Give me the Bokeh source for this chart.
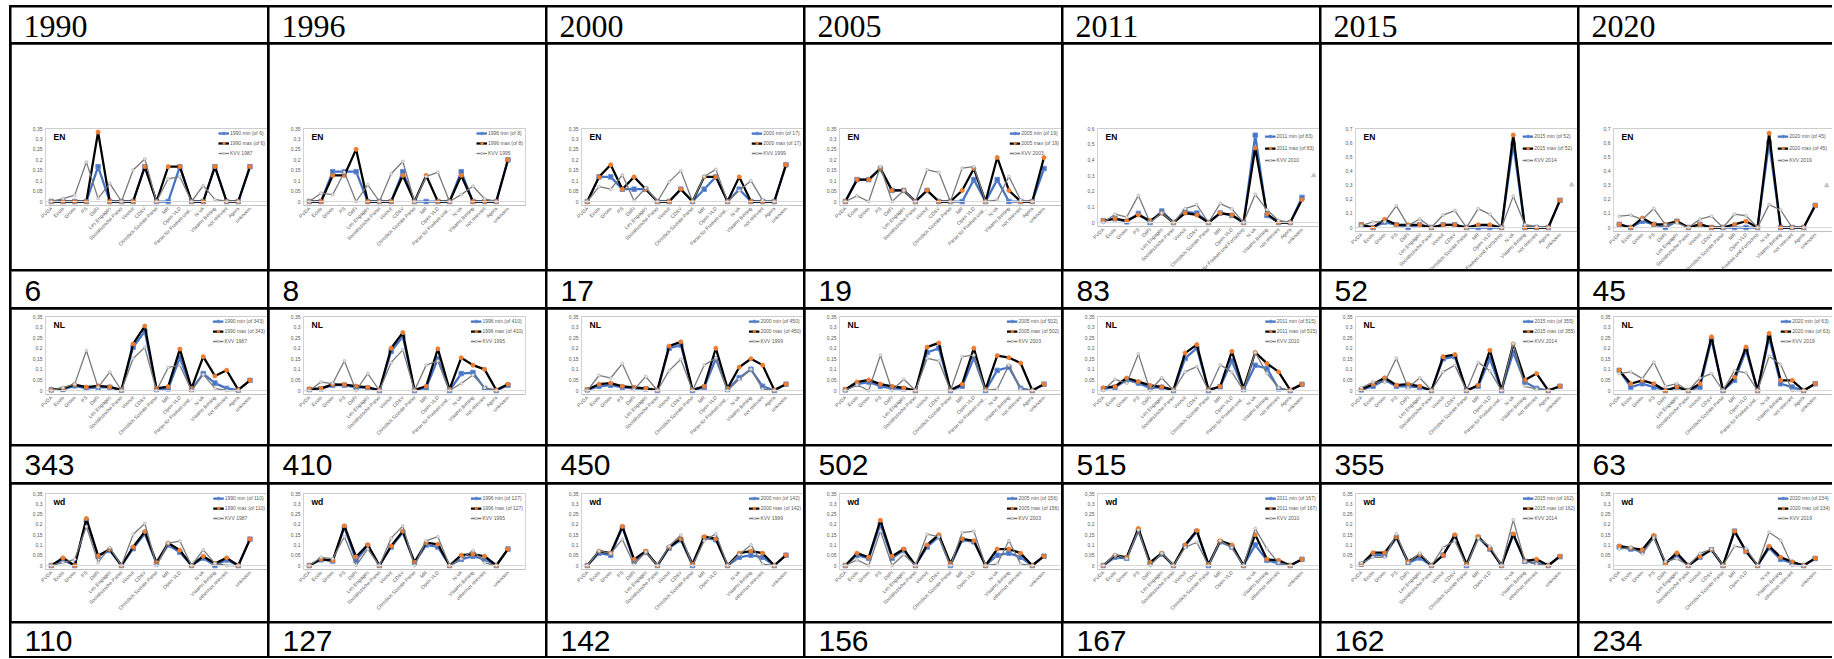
import math
from bokeh.plotting import figure
from bokeh.models import (Range1d, FixedTicker, Legend, LegendItem, Label, Span,
                          Spacer, CustomJSTickFormatter)
from bokeh.layouts import row, column
from bokeh.embed import file_html
from bokeh.resources import INLINE
from bokeh.core.properties import value

NaN = float("nan")

# ---------------- data ----------------
years = ["1990", "1996", "2000", "2005", "2011", "2015", "2020"]
kvv_years = ["1987", "1995", "1999", "2003", "2010", "2014", "2019"]
n_en = [6, 8, 17, 19, 83, 52, 45]
n_nl = [343, 410, 450, 502, 515, 355, 63]
n_wd = [110, 127, 142, 156, 167, 162, 234]

parties = ["PVDA", "Ecolo", "Groen", "PS", "DéFI", "Les Engagés", "Socialistische Partei",
           "Vooruit", "CD&V", "Christlich Soziale Partei", "MR", "Open VLD",
           "Partei für Freiheit und Fortschritt", "N-VA", "Vlaams Belang", "not relevant",
           "Agora", "unknown"]
pff_short = "Partei für Freiheit und..."
wd_labels = ["PVDA", "Ecolo", "Groen", "PS", "DéFI", "Les Engagés", "Socialistische Partei",
             "Vooruit", "CD&V", "Christlich Soziale Partei", "MR", "Open VLD", "",
             "N-VA", "Vlaams Belang", "other/not relevant", "", "unknown"]

# KVV (chamber election) shares, shared by the three rows of a column
kvv_1987 = [0, 0.014, 0.03, 0.189, 0.015, 0.087, 0, 0.151, 0.204, 0, 0.109, 0.119, 0, 0.076, 0.01, 0, 0, NaN]
kvv_1995 = [0, 0.04, 0.033, 0.14, 0, 0.08, 0, 0.133, 0.192, 0, 0.12, 0.14, 0, 0.033, 0.073, 0.013, 0, NaN]
kvv_1999 = [0, 0.071, 0.059, 0.127, 0.004, 0.066, 0, 0.094, 0.148, 0, 0.12, 0.154, 0, 0.053, 0.1, 0.007, 0, NaN]
kvv_2003 = [0, 0.027, 0, 0.167, 0, 0.053, 0, 0.152, 0.14, 0, 0.16, 0.167, 0, 0.007, 0.12, 0.007, 0, NaN]
kvv_2010 = [0, 0.053, 0.034, 0.173, 0, 0.06, 0, 0.088, 0.113, 0, 0.121, 0.087, 0, 0.18, 0.081, 0.013, 0, NaN]
kvv_2014 = [0.013, 0.04, 0.04, 0.153, 0.013, 0.06, 0, 0.088, 0.12, 0, 0.133, 0.093, 0, 0.222, 0.02, 0.007, 0, NaN]
kvv_2019 = [0.08, 0.088, 0.056, 0.134, 0.02, 0.033, 0, 0.059, 0.08, 0, 0.094, 0.083, 0, 0.162, 0.123, 0, 0, NaN]

# stray marker at the 19th slot of the later EN charts
en_extra = [NaN, NaN, NaN, NaN, 0.3, 0.302, 0.297]

# EN
en_1990_min = [0, 0, 0, 0, 0.167, 0, 0, 0, 0.167, 0, 0, 0.167, 0, 0, 0.167, 0, 0, 0.167]
en_1990_max = [0, 0, 0, 0, 0.333, 0, 0, 0, 0.167, 0, 0.167, 0.167, 0, 0, 0.167, 0, 0, 0.167]
en_1996_min = [0, 0, 0.143, 0.143, 0.143, 0, 0, 0, 0.143, 0, 0, 0, 0, 0.143, 0, 0, 0, 0.2]
en_1996_max = [0, 0, 0.125, 0.125, 0.25, 0, 0, 0, 0.125, 0, 0.125, 0, 0, 0.125, 0, 0, 0, 0.2]
en_2000_min = [0, 0.118, 0.118, 0.059, 0.059, 0.059, 0, 0, 0.059, 0, 0.059, 0.118, 0, 0.059, 0, 0, 0, 0.176]
en_2000_max = [0, 0.118, 0.176, 0.059, 0.118, 0.059, 0, 0, 0.059, 0, 0.118, 0.118, 0, 0.118, 0, 0, 0, 0.176]
en_2005_min = [0, 0.105, 0.105, 0.158, 0.053, 0.053, 0, 0.053, 0, 0, 0, 0.105, 0, 0.105, 0, 0, 0, 0.158]
en_2005_max = [0, 0.105, 0.105, 0.158, 0.053, 0.053, 0, 0.053, 0, 0, 0.053, 0.158, 0, 0.211, 0.053, 0, 0, 0.211]
en_2011_min = [0.012, 0.024, 0.004, 0.058, 0, 0.073, 0, 0.068, 0.06, 0, 0.06, 0.045, 0, 0.557, 0.045, 0, 0, 0.16]
en_2011_max = [0.012, 0.024, 0.012, 0.048, 0.012, 0.06, 0, 0.06, 0.048, 0, 0.06, 0.048, 0, 0.476, 0.055, 0, 0, 0.145]
en_2015_min = [0.019, 0, 0.038, 0.019, 0, 0.019, 0, 0.019, 0.019, 0, 0, 0, 0, 0.59, 0, 0, 0, 0.192]
en_2015_max = [0.019, 0, 0.058, 0.019, 0.019, 0.019, 0, 0.019, 0.019, 0, 0.019, 0.019, 0, 0.654, 0, 0, 0, 0.192]
en_2020_min = [0.022, 0, 0.044, 0.022, 0, 0.044, 0, 0.022, 0, 0, 0, 0, 0, 0.6, 0, 0, 0, 0.156]
en_2020_max = [0.022, 0, 0.067, 0.022, 0.022, 0.044, 0, 0.022, 0, 0, 0.022, 0.044, 0, 0.667, 0, 0, 0, 0.156]

# NL
nl_1990_min = [0.003, 0.005, 0.022, 0.01, 0.015, 0.015, 0.002, 0.205, 0.28, 0.005, 0.008, 0.156, 0.005, 0.08, 0.035, 0.01, 0.002, 0.048]
nl_1990_max = [0.003, 0.01, 0.028, 0.016, 0.022, 0.017, 0.003, 0.22, 0.305, 0.01, 0.018, 0.196, 0.01, 0.16, 0.069, 0.096, 0.003, 0.048]
nl_1996_min = [0.005, 0.008, 0.025, 0.025, 0.015, 0.012, 0, 0.185, 0.255, 0, 0.013, 0.15, 0, 0.08, 0.085, 0.01, 0, 0.025]
nl_1996_max = [0.007, 0.01, 0.029, 0.028, 0.021, 0.015, 0.002, 0.2, 0.274, 0.003, 0.02, 0.197, 0.005, 0.155, 0.12, 0.1, 0.002, 0.03]
nl_2000_min = [0.003, 0.02, 0.025, 0.015, 0.01, 0.008, 0, 0.2, 0.215, 0, 0.015, 0.15, 0.005, 0.06, 0.1, 0.02, 0, 0.03]
nl_2000_max = [0.005, 0.03, 0.035, 0.02, 0.015, 0.01, 0.002, 0.21, 0.23, 0.003, 0.02, 0.2, 0.01, 0.11, 0.15, 0.12, 0.002, 0.03]
nl_2005_min = [0.003, 0.03, 0.04, 0.02, 0.01, 0.008, 0, 0.18, 0.2, 0, 0.02, 0.155, 0, 0.095, 0.11, 0.01, 0, 0.03]
nl_2005_max = [0.005, 0.04, 0.05, 0.03, 0.02, 0.012, 0, 0.205, 0.225, 0.002, 0.03, 0.2, 0.005, 0.165, 0.155, 0.13, 0, 0.03]
nl_2011_min = [0.008, 0.015, 0.05, 0.035, 0.012, 0.015, 0, 0.152, 0.2, 0, 0.018, 0.14, 0.005, 0.119, 0.104, 0.008, 0, 0.029]
nl_2011_max = [0.013, 0.019, 0.059, 0.042, 0.024, 0.017, 0.003, 0.177, 0.217, 0.003, 0.019, 0.185, 0.01, 0.18, 0.128, 0.088, 0.002, 0.029]
nl_2015_min = [0.003, 0.02, 0.05, 0.02, 0.02, 0.015, 0, 0.15, 0.16, 0, 0.02, 0.15, 0, 0.18, 0.04, 0.01, 0, 0.02]
nl_2015_max = [0.006, 0.03, 0.06, 0.025, 0.03, 0.02, 0, 0.16, 0.17, 0, 0.025, 0.19, 0.003, 0.22, 0.05, 0.08, 0, 0.02]
nl_2020_min = [0.095, 0.016, 0.032, 0.016, 0, 0.016, 0, 0.016, 0.24, 0, 0.048, 0.19, 0, 0.25, 0.032, 0.016, 0, 0.032]
nl_2020_max = [0.095, 0.032, 0.048, 0.032, 0, 0.016, 0, 0.032, 0.254, 0, 0.063, 0.206, 0, 0.27, 0.048, 0.048, 0, 0.032]

# wd
wd_1990_min = [0, 0.027, 0, 0.218, 0.045, 0.073, 0, 0.082, 0.155, 0.009, 0.1, 0.064, 0, 0.036, 0, 0.027, 0, 0.128]
wd_1990_max = [0, 0.037, 0, 0.228, 0.047, 0.079, 0, 0.09, 0.165, 0.014, 0.109, 0.074, 0, 0.045, 0.01, 0.037, 0, 0.128]
wd_1996_min = [0, 0.028, 0.022, 0.185, 0.025, 0.095, 0, 0.09, 0.16, 0.012, 0.1, 0.09, 0, 0.03, 0.045, 0.03, 0, 0.08]
wd_1996_max = [0, 0.031, 0.024, 0.193, 0.042, 0.101, 0, 0.095, 0.167, 0.016, 0.111, 0.103, 0, 0.05, 0.055, 0.045, 0, 0.08]
wd_2000_min = [0, 0.06, 0.05, 0.185, 0.02, 0.065, 0, 0.085, 0.125, 0, 0.135, 0.125, 0, 0.04, 0.05, 0.04, 0, 0.05]
wd_2000_max = [0, 0.07, 0.06, 0.19, 0.03, 0.07, 0, 0.09, 0.13, 0.007, 0.14, 0.13, 0, 0.06, 0.07, 0.06, 0, 0.05]
wd_2005_min = [0, 0.05, 0.035, 0.2, 0.035, 0.075, 0, 0.09, 0.14, 0, 0.125, 0.115, 0, 0.05, 0.06, 0.04, 0, 0.045]
wd_2005_max = [0, 0.06, 0.04, 0.22, 0.045, 0.08, 0, 0.1, 0.15, 0.01, 0.13, 0.12, 0, 0.08, 0.08, 0.06, 0, 0.045]
wd_2011_min = [0, 0.04, 0.035, 0.17, 0.01, 0.055, 0, 0.095, 0.165, 0, 0.115, 0.09, 0, 0.1, 0.025, 0.01, 0, 0.03]
wd_2011_max = [0, 0.05, 0.04, 0.18, 0.015, 0.06, 0, 0.1, 0.17, 0.005, 0.12, 0.1, 0, 0.15, 0.03, 0.025, 0, 0.03]
wd_2015_min = [0.006, 0.05, 0.05, 0.136, 0.012, 0.037, 0, 0.05, 0.142, 0, 0.136, 0.08, 0, 0.148, 0.02, 0.012, 0, 0.043]
wd_2015_max = [0.006, 0.062, 0.062, 0.138, 0.018, 0.053, 0, 0.05, 0.149, 0.006, 0.141, 0.083, 0, 0.154, 0.022, 0.03, 0, 0.045]
wd_2020_min = [0.09, 0.08, 0.07, 0.14, 0.01, 0.05, 0, 0.04, 0.077, 0, 0.167, 0.068, 0, 0.085, 0.03, 0.013, 0, 0.034]
wd_2020_max = [0.095, 0.085, 0.077, 0.146, 0.01, 0.061, 0, 0.043, 0.077, 0, 0.167, 0.069, 0, 0.094, 0.04, 0.018, 0, 0.035]

kvv = [kvv_1987, kvv_1995, kvv_1999, kvv_2003, kvv_2010, kvv_2014, kvv_2019]
series = {
    "EN": ([en_1990_min, en_1996_min, en_2000_min, en_2005_min, en_2011_min, en_2015_min, en_2020_min],
           [en_1990_max, en_1996_max, en_2000_max, en_2005_max, en_2011_max, en_2015_max, en_2020_max], n_en),
    "NL": ([nl_1990_min, nl_1996_min, nl_2000_min, nl_2005_min, nl_2011_min, nl_2015_min, nl_2020_min],
           [nl_1990_max, nl_1996_max, nl_2000_max, nl_2005_max, nl_2011_max, nl_2015_max, nl_2020_max], n_nl),
    "wd": ([wd_1990_min, wd_1996_min, wd_2000_min, wd_2005_min, wd_2011_min, wd_2015_min, wd_2020_min],
           [wd_1990_max, wd_1996_max, wd_2000_max, wd_2005_max, wd_2011_max, wd_2015_max, wd_2020_max], n_wd),
}

# ---------------- styling / layout ----------------
BLUE = "#4472C4"
BLUE_EDGE = "#6A8FD3"
ORANGE = "#ED7D31"
GREY = "#7A7A7A"
LIGHT = "#D9D9D9"
LABEL_C = "#595959"
CHART_FONT = "Liberation Sans"

col_w = [256, 276, 256, 256, 256, 256, 253]
row_h = [35, 225, 36, 135, 36, 137, 33]
left_b = [34, 34, 34, 34, 34, 34, 34]
right_b = [0, 20, 0, 0, 0, 0, 0]

fmt_code = """
var s = tick.toFixed(2);
s = s.replace(/0+$/, '').replace(/\\.$/, '');
return s.replace('.', ',');
"""


def chart_geom(kind, ci):
    # (frame top offset, px from top to zero line, ymax, tick step, legend margin, legend spacing)
    if kind == "EN":
        if ci <= 3:
            return 84, 73, 0.35, 0.05, 2, 4
        if ci == 4:
            return 48, 94, 0.6, 0.1, 5, 6
        return 48, 99, 0.7, 0.1, 5, 6
    if kind == "NL":
        return 7, 74, 0.35, 0.05, 2, 4
    return 9, 72, 0.35, 0.05, 2, 4


def style_axis(ax):
    ax.axis_line_color = None
    ax.major_tick_line_color = None
    ax.minor_tick_line_color = None
    ax.major_tick_out = 0
    ax.major_tick_in = 0
    ax.minor_tick_out = 0
    ax.minor_tick_in = 0
    ax.major_label_text_font_size = "5px"
    ax.major_label_text_font = CHART_FONT
    ax.major_label_text_color = LABEL_C


def make_chart(ci, kind, r):
    top, zero_px, ymax, step, lmargin, lspacing = chart_geom(kind, ci)
    extra_px = 4
    frame_h = zero_px + extra_px
    bottom = row_h[r] - top - frame_h
    frame_w = col_w[ci] - left_b[ci] - right_b[ci]
    ystart = -extra_px / zero_px * ymax
    p = figure(frame_width=frame_w, frame_height=frame_h, title=None,
               output_backend="svg", toolbar_location=None,
               x_range=Range1d(-0.5, 18.5), y_range=Range1d(ystart, ymax),
               min_border_left=left_b[ci], min_border_right=right_b[ci],
               min_border_top=top, min_border_bottom=bottom)
    p.xgrid.visible = False
    p.ygrid.visible = False
    p.outline_line_color = None
    p.background_fill_color = "white"
    p.border_fill_color = "white"

    nticks = int(round(ymax / step))
    p.yaxis.ticker = FixedTicker(ticks=[round(k * step, 2) for k in range(nticks + 1)])
    p.yaxis.formatter = CustomJSTickFormatter(code=fmt_code)
    style_axis(p.yaxis[0])
    p.yaxis.major_label_standoff = 3

    if kind == "wd":
        labels = list(wd_labels)
    else:
        labels = list(parties)
        if not (kind == "EN" and ci >= 4):
            labels[12] = pff_short
    labels.append("")
    p.xaxis.ticker = FixedTicker(ticks=list(range(19)))
    p.xaxis.major_label_overrides = {i: lab for i, lab in enumerate(labels)}
    p.xaxis.major_label_orientation = math.pi / 4
    style_axis(p.xaxis[0])
    p.xaxis.major_label_standoff = 2

    # plot area frame lines and zero axis
    p.add_layout(Span(location=0, dimension="width", line_color=LIGHT, line_width=1))
    p.add_layout(Span(location=ymax, dimension="width", line_color=LIGHT, line_width=1))
    p.add_layout(Span(location=-0.5, dimension="height", line_color="#E6E6E6", line_width=1))
    p.add_layout(Span(location=18.5, dimension="height", line_color="#E6E6E6", line_width=1))

    mins, maxs, ns = series[kind]
    xs = list(range(18))
    ymin_vals = mins[ci]
    ymax_vals = maxs[ci]
    kv = kvv[ci]

    r1 = p.line(xs, ymin_vals, line_color=BLUE, line_width=2.25)
    r2 = p.scatter(xs, ymin_vals, marker="square", size=4.5, fill_color=BLUE, line_color=BLUE_EDGE)
    r3 = p.line(xs, ymax_vals, line_color="black", line_width=2.25)
    r4 = p.scatter(xs, ymax_vals, marker="circle", size=4, fill_color=ORANGE, line_color=ORANGE)
    r5 = p.line(xs, kv, line_color=GREY, line_width=1.3)
    r6 = p.scatter(xs, kv, marker="circle", size=3, fill_color="#E4E4E4", line_color="#A6A6A6",
                   line_width=0.6)
    if kind == "EN" and not math.isnan(en_extra[ci]):
        p.scatter([18], [en_extra[ci]], marker="triangle", size=4.5, fill_color="#C8C8C8",
                  line_color="#B0B0B0", line_width=0.6)

    yr = years[ci]
    legend = Legend(items=[
        LegendItem(label=f"{yr} min (of {ns[ci]})", renderers=[r1, r2]),
        LegendItem(label=f"{yr} max (of {ns[ci]})", renderers=[r3, r4]),
        LegendItem(label=f"KVV {kvv_years[ci]}", renderers=[r5, r6]),
    ], location="top_right")
    legend.background_fill_alpha = 0
    legend.border_line_color = None
    legend.label_text_font_size = "5px"
    legend.label_text_font = CHART_FONT
    legend.label_text_color = LABEL_C
    legend.glyph_width = 11
    legend.glyph_height = 6
    legend.label_height = 6
    legend.label_standoff = 1
    legend.spacing = lspacing
    legend.padding = 0
    legend.margin = lmargin
    p.add_layout(legend)

    p.add_layout(Label(x=-0.5, y=ymax, x_offset=8, y_offset=-3, text=kind,
                       text_font=CHART_FONT, text_font_size="8.5px", text_font_style="bold",
                       text_baseline="top", text_align="left", text_color="black"))
    return p


def make_header(ci, r, txt, font, size, ymid, xoff):
    p = figure(width=col_w[ci], height=row_h[r], output_backend="svg", toolbar_location=None,
               x_range=Range1d(0, 1), y_range=Range1d(0, 1), title=None,
               x_axis_location=None, y_axis_location=None, min_border=0)
    p.grid.visible = False
    p.outline_line_color = None
    p.background_fill_color = "white"
    p.border_fill_color = "white"
    p.text(x=[0], y=[ymid], text=[txt], x_offset=xoff, text_font=value(font),
           text_font_size=value(size), text_baseline="middle", text_align="left",
           text_color="black")
    return p


rows = []
for r in range(7):
    cells = [Spacer(width=0, height=row_h[r])]
    for ci in range(7):
        if r == 0:
            cells.append(make_header(ci, r, years[ci], "Liberation Serif", "32px", 1 - 18.5 / 35, 12))
        elif r == 1:
            cells.append(make_chart(ci, "EN", r))
        elif r == 2:
            cells.append(make_header(ci, r, str(n_en[ci]), "Liberation Sans", "30px", 1 - 19.5 / 36, 13))
        elif r == 3:
            cells.append(make_chart(ci, "NL", r))
        elif r == 4:
            cells.append(make_header(ci, r, str(n_nl[ci]), "Liberation Sans", "30px", 1 - 18.5 / 36, 13))
        elif r == 5:
            cells.append(make_chart(ci, "wd", r))
        else:
            cells.append(make_header(ci, r, str(n_wd[ci]), "Liberation Sans", "30px", 1 - 17.5 / 33, 13))
    rows.append(row(cells, spacing=2, styles={"background-color": "black"}))

table = column([Spacer(width=0, height=0)] + rows + [Spacer(width=0, height=0)], spacing=2,
               styles={"background-color": "black"})

page = column(Spacer(width=1, height=5), row(Spacer(width=9, height=1), table))

open("out.html", "w").write(file_html(page, INLINE))
